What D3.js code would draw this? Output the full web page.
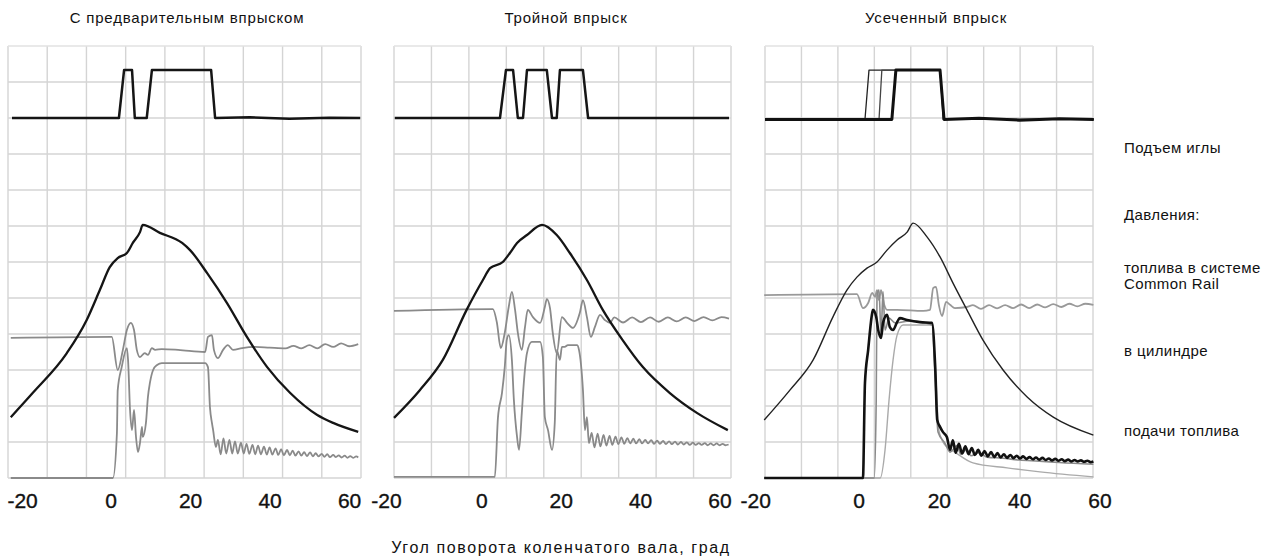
<!DOCTYPE html>
<html>
<head>
<meta charset="utf-8">
<script src="https://cdn.jsdelivr.net/npm/d3@7"></script>
<style>body{margin:0;background:#fff}</style>
</head>
<body>
<svg></svg>
<script>
//variables globales
var width = 1286;
var height = 558;

//textos
var titles = ["С предварительным впрыском", "Тройной впрыск", "Усеченный впрыск"];
var tickValues = [-20, 0, 20, 40, 60];
var xTitle = "Угол поворота коленчатого вала, град";
var sideLabels = [["Подъем иглы"], ["Давления:"], ["топлива в системе", "Common Rail"], ["в цилиндре"], ["подачи топлива"]];

//datos: [угол, град ; уровень в клетках сетки]
// --- с предварительным впрыском
var needle1 = [[-24.8,10],[2.1,10],[3.4,11.33],[5.4,11.33],[6.1,10],[9.1,10],[10.4,11.33],[25.3,11.33],[26.3,10],[35,10.02],[45,9.98],[55,10.01],[62.8,10]];
var cyl1 = [[-25.1,1.69],[-19.6,2.36],[-11.0,3.47],[-6.0,4.39],[-2.7,5.22],[-0.2,5.86],[1.8,6.11],[4.1,6.25],[5.6,6.53],[7.4,6.83],[8.1,7.03],[12.4,6.81],[18.0,6.53],[20.0,6.33],[24.3,5.69],[29.3,4.86],[34.3,3.92],[39.4,3.08],[45.2,2.36],[52.0,1.75],[56.0,1.53],[62.3,1.28]];
var rail1 = [[-25.1,3.89],[0.3,3.92],[1.8,3.0],[3.1,3.56],[4.1,4.11],[5.1,4.31],[5.9,4.11],[6.6,3.56],[7.4,3.36],[8.6,3.47],[9.4,3.42],[10.4,3.61],[11.2,3.56],[12.9,3.58],[17.0,3.56],[23.8,3.5],[24.5,3.92],[25.5,3.97],[26.0,3.56],[27.0,3.33],[28.3,3.56],[29.5,3.69],[30.8,3.56],[33.1,3.61],[36.3,3.64],[40,3.62],[44,3.6],[46,3.67],[48,3.6],[50,3.69],[52,3.6],[54,3.72],[56,3.64],[58,3.74],[60,3.66],[62.3,3.72]];
var fuel1 = [[-25.1,0],[0.6,0],[1.6,1.25],[1.8,2.44],[2.8,3.08],[4.1,3.61],[4.4,3.28],[4.9,1.89],[5.4,1.33],[5.9,1.89],[6.4,1.14],[6.9,0.72],[7.4,0.97],[7.9,1.42],[8.1,1.14],[8.9,1.53],[9.4,2.25],[9.9,2.64],[10.7,3.0],[11.7,3.14],[12.9,3.19],[17.0,3.19],[23.8,3.19],[24.5,3.08],[25.0,1.97],[25.5,1.53],[25.8,1.33],[26.5,0.86],[27.0,1.06],
  [27.7,0.66],[28.4,1.10],[29.1,0.68],[29.9,1.06],[30.6,0.68],[31.3,1.02],[32.0,0.68],[32.8,0.98],[33.5,0.68],[34.2,0.95],[34.9,0.67],[35.7,0.92],[36.4,0.66],[37.1,0.90],[37.8,0.66],[38.6,0.87],[39.3,0.65],[40.0,0.85],[40.7,0.65],[41.5,0.82],[42.2,0.64],[42.9,0.80],[43.6,0.63],[44.4,0.78],[45.1,0.63],[45.8,0.76],[46.5,0.62],[47.3,0.74],[48.0,0.62],[48.7,0.72],[49.4,0.61],[50.2,0.71],[50.9,0.60],[51.6,0.69],[52.3,0.60],[53.1,0.67],[53.8,0.59],[54.5,0.66],[55.2,0.58],[56.0,0.64],[56.7,0.58],[57.4,0.63],[58.1,0.57],[58.9,0.62],[59.6,0.56],[60.3,0.61],[61.0,0.56],[61.8,0.60],[62.3,0.57]];

// --- тройной впрыск
var needle2 = [[-21.8,10],[4.7,10],[6.2,11.33],[8.0,11.33],[9.2,10],[10.5,10],[11.5,11.33],[16.5,11.33],[17.8,10],[19.0,10],[19.8,11.33],[25.6,11.33],[26.9,10],[62.4,10]];
var cyl2 = [[-22.0,1.67],[-15.5,2.44],[-9.7,3.28],[-3.7,4.67],[0.4,5.5],[2.2,5.83],[5.4,6.0],[7.2,6.25],[9.0,6.53],[11.5,6.75],[15.3,7.03],[19.0,6.75],[22.3,6.25],[26.6,5.5],[30.6,4.67],[35.6,3.83],[40.7,3.08],[47.5,2.36],[54.3,1.81],[62.1,1.33]];
var rail2 = [[-22.0,4.64],[2.9,4.69],[3.9,4.33],[4.9,3.61],[5.9,4.03],[6.9,4.75],[7.7,5.17],[8.5,4.67],[9.2,4.03],[10.2,3.56],[11.0,4.19],[11.7,4.67],[13.0,4.47],[14.8,4.31],[16.0,4.75],[16.5,4.97],[17.3,4.72],[18.0,4.03],[19.0,3.47],[20.3,4.47],[21.6,4.31],[23.1,4.17],[24.8,4.58],[25.6,4.94],[26.6,4.47],[27.6,3.92],[28.6,4.19],[29.9,4.53],[31.1,4.39],[32.4,4.31],
  [33.5,4.46],[35.7,4.32],[38,4.46],[40.2,4.33],[42.5,4.46],[44.7,4.34],[47,4.46],[49.2,4.35],[51.5,4.46],[53.7,4.36],[56,4.47],[58.2,4.38],[60.5,4.47],[62.4,4.43]];
var fuel2 = [[-22.0,0.03],[3.4,0.03],[4.2,1.69],[5.2,2.36],[5.9,3.08],[6.4,3.83],[6.9,3.97],[7.7,3.28],[8.2,2.17],[9.0,1.14],[9.5,0.78],[10.2,1.81],[10.7,2.64],[11.5,3.47],[12.7,3.78],[14.8,3.78],[15.5,3.36],[16.0,1.69],[16.8,1.33],[17.8,0.78],[18.5,1.53],[19.0,3.56],[19.8,3.28],[20.3,3.64],[21.0,3.64],[21.8,3.69],[24.1,3.69],[24.6,3.56],[25.6,2.44],[26.1,1.33],[26.6,1.69],[27.1,0.97],
  [27.8,1.25],[28.5,0.85],[29.3,1.23],[30.0,0.88],[30.8,1.20],[31.5,0.90],[32.3,1.17],[33.0,0.92],[33.8,1.15],[34.5,0.94],[35.3,1.13],[36.0,0.95],[36.8,1.11],[37.5,0.96],[38.3,1.09],[39.0,0.96],[39.8,1.08],[40.5,0.96],[41.3,1.06],[42.0,0.96],[42.8,1.05],[43.5,0.95],[44.3,1.04],[45.0,0.95],[45.8,1.03],[46.5,0.94],[47.3,1.02],[48.0,0.94],[48.8,1.01],[49.5,0.93],[50.3,1.0],[51.0,0.93],[51.8,0.99],[52.5,0.92],[53.3,0.98],[54.0,0.92],[54.8,0.97],[55.5,0.92],[56.3,0.97],[57.0,0.91],[57.8,0.96],[58.5,0.91],[59.3,0.96],[60.0,0.91],[60.8,0.95],[61.5,0.91],[62.3,0.93]];

// --- усеченный впрыск
var needle3a = [[-23.3,9.96],[1.6,9.96],[2.6,11.33],[20.3,11.33],[21.1,9.96],[58.6,9.96]];
var needle3b = [[-23.3,9.96],[5.1,9.96],[5.8,11.33],[20.3,11.33],[21.2,9.96],[58.6,9.96]];
var needle3c = [[-23.3,9.96],[8.3,9.96],[9.3,11.33],[20.3,11.33],[21.3,9.96],[30,9.99],[40,9.94],[50,9.98],[58.6,9.96]];
var cyl3 = [[-23.5,1.61],[-17.1,2.44],[-11.3,3.28],[-6.4,4.47],[-2.9,5.22],[-0.4,5.58],[2.1,5.83],[4.6,6.0],[7.1,6.33],[9.6,6.61],[12.1,6.83],[13.6,7.08],[17.1,6.69],[20.3,6.14],[23.5,5.42],[27.0,4.67],[31.0,3.83],[36.0,3.0],[42.0,2.25],[48.5,1.69],[58.5,1.19]];
var rail3 = [[-23.5,5.08],[-0.4,5.11],[1.1,4.72],[2.4,4.86],[3.4,5.14],[4.1,5.03],[4.6,5.22],[5.1,4.94],[5.6,5.22],[6.4,4.81],[7.1,4.67],[9.6,4.67],[16.1,4.64],[17.8,4.67],[18.6,5.28],[19.3,5.31],[20.0,4.81],[20.8,4.5],[21.8,4.89],[22.8,4.81],[24.0,4.72],[27.0,4.75],
  [28.5,4.80],[30.5,4.70],[32.5,4.80],[34.5,4.71],[36.5,4.80],[38.5,4.72],[40.5,4.82],[42.5,4.72],[44.5,4.82],[46.5,4.74],[48.5,4.83],[50.5,4.75],[52.5,4.84],[54.5,4.77],[56.5,4.84],[58.5,4.81]];
var fuel3a = [[-23.5,0],[1.1,0],[1.6,2.64],[2.4,3.56],[3.4,4.58],[3.6,4.67],[4.4,4.47],[4.9,4.11],[5.6,3.89],[6.1,4.31],[7.1,4.53],[7.8,4.19],[8.6,4.11],[9.6,4.33],[10.3,4.44],[12.1,4.39],[15.3,4.33],[18.3,4.31],[19.1,3.08],[19.6,1.61],[20.3,1.42],[21.0,1.28],[22.0,1.14],[22.8,0.78],
  [23.5,1.05],[24.2,0.70],[25.0,0.95],[25.8,0.68],[26.6,0.88],[27.4,0.66],[28.2,0.83],[29.0,0.64],[29.8,0.78],[30.6,0.62],[31.4,0.75],[32.2,0.60],[33.0,0.72],[33.8,0.58],[34.6,0.69],[35.4,0.57],[36.2,0.66],[37.0,0.56],[37.8,0.64],[38.6,0.55],[39.4,0.62],[40.2,0.54],[41.0,0.60],[41.8,0.53],[42.6,0.58],[43.4,0.52],[44.2,0.57],[45.0,0.51],[45.8,0.56],[46.6,0.50],[47.4,0.54],[48.2,0.49],[49.0,0.53],[49.8,0.48],[50.6,0.52],[51.4,0.47],[52.2,0.51],[53.0,0.46],[53.8,0.50],[54.6,0.46],[55.4,0.49],[56.2,0.45],[57.0,0.48],[57.8,0.44],[58.5,0.46]];
var fuel3b = [[-23.5,0],[3.9,0],[4.4,2.17],[4.6,5.08],[5.1,5.22],[5.6,3.97],[6.1,5.17],[6.6,4.11],[7.6,4.44],[9.1,4.31],[12.8,4.36],[18.3,4.25],[19.1,2.72],[19.8,1.28],[21.5,0.97],[22.8,0.72],[24.5,0.9],[25.5,0.66],[27,0.8],[28,0.62],[30,0.7],[32,0.58],[36,0.55],[40,0.5],[45,0.47],[50,0.43],[58.5,0.38]];
var fuel3c = [[-23.5,0],[5.4,0],[6.6,0.78],[7.6,2.17],[8.6,3.28],[9.6,3.97],[11.1,4.25],[18.3,4.25],[19.3,2.72],[20.0,1.33],[21.5,0.92],[24.0,0.72],[28.5,0.42],[37.0,0.28],[45.2,0.17],[58.5,0.03]];

//layout
var gridTop = 46, gridBottom = 478, axisY = 508;
var panels = [
  {left: 8,   right: 361,  domain: [-25.8, 63.0], tx: 187, neg: -9,
   series: [{d: rail1, c: "#8a8a8a", w: 1.8}, {d: fuel1, c: "#8a8a8a", w: 1.8}, {d: cyl1, c: "#151515", w: 2.3}, {d: needle1, c: "#151515", w: 2.5, lin: true}]},
  {left: 394, right: 731,  domain: [-22.0, 62.9], tx: 566, neg: -16,
   series: [{d: rail2, c: "#8a8a8a", w: 1.8}, {d: fuel2, c: "#8a8a8a", w: 1.8}, {d: cyl2, c: "#151515", w: 2.3}, {d: needle2, c: "#151515", w: 2.5, lin: true}]},
  {left: 765, right: 1093, domain: [-23.3, 58.4], tx: 936, neg: -23,
   series: [{d: rail3, c: "#999999", w: 1.8}, {d: fuel3c, c: "#aaaaaa", w: 1.4}, {d: fuel3b, c: "#8a8a8a", w: 1.6}, {d: cyl3, c: "#222222", w: 1.4},
            {d: fuel3a, c: "#111111", w: 2.6}, {d: needle3a, c: "#222222", w: 1.3, lin: true}, {d: needle3b, c: "#444444", w: 1.3, lin: true}, {d: needle3c, c: "#111111", w: 3, lin: true}]}
];

//selecciona el svg
var svg = d3.select("svg")
  .attr("width", width)
  .attr("height", height)
  .style("background", "#ffffff");

var y = d3.scaleLinear().domain([0, 12]).range([gridBottom, gridTop]);

panels.forEach(function(p, i) {
  var x = d3.scaleLinear().domain(p.domain).range([p.left, p.right]);
  var gx = d3.scaleLinear().domain([0, 9]).range([p.left, p.right]);
  var g = svg.append("g");

  //rejilla
  g.selectAll(".v").data(d3.range(10)).enter().append("line")
    .attr("x1", function(d) { return gx(d); }).attr("x2", function(d) { return gx(d); })
    .attr("y1", gridTop).attr("y2", gridBottom)
    .attr("stroke", "#d4d4d4").attr("stroke-width", 1.4);
  g.selectAll(".h").data(d3.range(13)).enter().append("line")
    .attr("x1", p.left).attr("x2", p.right)
    .attr("y1", function(d) { return y(d); }).attr("y2", function(d) { return y(d); })
    .attr("stroke", function(d) { return d === 12 ? "#e2e2e2" : "#d4d4d4"; }).attr("stroke-width", 1.4);

  //curvas
  var smooth = d3.line().x(function(d) { return x(d[0]); }).y(function(d) { return y(d[1]); }).curve(d3.curveMonotoneX);
  var sharp = d3.line().x(function(d) { return x(d[0]); }).y(function(d) { return y(d[1]); });
  p.series.forEach(function(s) {
    g.append("path")
      .attr("d", s.lin ? sharp(s.d) : smooth(s.d))
      .attr("fill", "none")
      .attr("stroke", s.c)
      .attr("stroke-width", s.w)
      .attr("stroke-linejoin", "round");
  });

  //eje x
  var ax = g.append("g")
    .attr("transform", "translate(0," + axisY + ")")
    .call(d3.axisBottom(x).tickValues(tickValues).tickSize(0).tickFormat(function(d) { return String(d); }));
  ax.select(".domain").remove();
  ax.selectAll("text")
    .attr("y", 0).attr("dy", 0)
    .attr("dx", function(d) { return d < 0 ? p.neg : 0; })
    .attr("fill", "#111")
    .attr("stroke", "#111").attr("stroke-width", 0.35)
    .style("font-family", "'Liberation Sans', Arial, sans-serif")
    .style("font-size", "21px");

  //titulo
  g.append("text")
    .attr("x", p.tx).attr("y", 23)
    .attr("text-anchor", "middle")
    .style("font-family", "'Liberation Sans', Arial, sans-serif")
    .style("font-size", "15px")
    .style("letter-spacing", "0.8px")
    .attr("fill", "#111")
    .text(titles[i]);
});

//etiquetas a la derecha
var sideY = [153, 220, 273, 356, 436];
sideLabels.forEach(function(lines, i) {
  var t = svg.append("text")
    .attr("x", 1124).attr("y", sideY[i])
    .style("font-family", "'Liberation Sans', Arial, sans-serif")
    .style("font-size", "15px")
    .style("letter-spacing", "0.4px")
    .attr("fill", "#111");
  lines.forEach(function(l, j) {
    t.append("tspan").attr("x", 1124).attr("dy", j === 0 ? 0 : 16).text(l);
  });
});

//titulo del eje
svg.append("text")
  .attr("x", 561).attr("y", 553)
  .attr("text-anchor", "middle")
  .style("font-family", "'Liberation Sans', Arial, sans-serif")
  .style("font-size", "16px")
  .style("letter-spacing", "1.6px")
  .attr("fill", "#111")
  .text(xTitle);
</script>
</body>
</html>
